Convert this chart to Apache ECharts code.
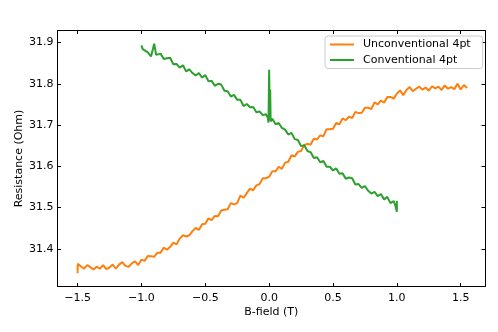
<!DOCTYPE html>
<html>
<head>
<meta charset="utf-8">
<script src="https://cdn.jsdelivr.net/npm/echarts@6/dist/echarts.min.js"></script>
<style>
  html, body { margin: 0; padding: 0; background: #fff; }
  #chart { width: 498px; height: 332px; }
</style>
</head>
<body>
<div id="chart"></div>
<script>
// B-field sweep, unconventional 4pt (orange)
const bUnconv = [
  -1.500, -1.498, -1.475, -1.450, -1.425, -1.400, -1.375, -1.350, -1.325, -1.300,
  -1.275, -1.250, -1.225, -1.200, -1.175, -1.150, -1.125, -1.100, -1.075, -1.050,
  -1.025, -1.000, -0.975, -0.950, -0.925, -0.900, -0.875, -0.850, -0.825, -0.800,
  -0.775, -0.750, -0.725, -0.700, -0.675, -0.650, -0.625, -0.600, -0.575, -0.550,
  -0.525, -0.500, -0.475, -0.450, -0.425, -0.400, -0.375, -0.350, -0.325, -0.300,
  -0.275, -0.250, -0.225, -0.200, -0.175, -0.150, -0.125, -0.100, -0.075, -0.050,
  -0.025, 0.000, 0.025, 0.050, 0.075, 0.100, 0.125, 0.150, 0.175, 0.200,
  0.225, 0.250, 0.275, 0.300, 0.325, 0.350, 0.375, 0.400, 0.425, 0.450,
  0.475, 0.500, 0.525, 0.550, 0.575, 0.600, 0.625, 0.650, 0.675, 0.700,
  0.725, 0.750, 0.775, 0.800, 0.825, 0.850, 0.875, 0.900, 0.925, 0.950,
  0.975, 1.000, 1.025, 1.050, 1.075, 1.100, 1.125, 1.150, 1.175, 1.200,
  1.225, 1.250, 1.275, 1.300, 1.325, 1.350, 1.375, 1.400, 1.425, 1.450,
  1.475, 1.500, 1.525, 1.550
];
const rUnconv = [
  31.341, 31.364, 31.358, 31.352, 31.361, 31.356, 31.350, 31.357, 31.352, 31.361,
  31.351, 31.355, 31.362, 31.352, 31.362, 31.368, 31.359, 31.357, 31.365, 31.370,
  31.361, 31.374, 31.371, 31.383, 31.382, 31.381, 31.391, 31.391, 31.403, 31.398,
  31.405, 31.415, 31.411, 31.425, 31.433, 31.430, 31.433, 31.443, 31.451, 31.446,
  31.460, 31.461, 31.474, 31.470, 31.480, 31.479, 31.493, 31.495, 31.496, 31.511,
  31.508, 31.511, 31.529, 31.524, 31.535, 31.546, 31.542, 31.554, 31.557, 31.571,
  31.571, 31.575, 31.588, 31.588, 31.599, 31.594, 31.609, 31.611, 31.627, 31.624,
  31.635, 31.637, 31.652, 31.654, 31.653, 31.667, 31.665, 31.675, 31.673, 31.690,
  31.690, 31.691, 31.705, 31.702, 31.716, 31.712, 31.720, 31.717, 31.732, 31.729,
  31.730, 31.742, 31.742, 31.739, 31.755, 31.750, 31.759, 31.754, 31.768, 31.768,
  31.764, 31.776, 31.784, 31.772, 31.785, 31.792, 31.782, 31.788, 31.793, 31.786,
  31.791, 31.783, 31.794, 31.789, 31.793, 31.785, 31.796, 31.788, 31.792, 31.787,
  31.800, 31.786, 31.797, 31.790
];

// B-field sweep, conventional 4pt (green)
const bConv = [
  -1.000, -0.990, -0.975, -0.950, -0.925, -0.910, -0.900, -0.885, -0.875,
  -0.850, -0.825, -0.800, -0.775, -0.750, -0.725, -0.700, -0.675, -0.650, -0.625,
  -0.600, -0.575, -0.550, -0.525, -0.500, -0.475, -0.450, -0.425, -0.400, -0.375,
  -0.350, -0.325, -0.300, -0.275, -0.250, -0.225, -0.200, -0.175, -0.150, -0.125,
  -0.100, -0.075, -0.050, -0.025,
  -0.012, -0.005, 0.000, 0.004, 0.008, 0.012,
  0.025, 0.050, 0.075, 0.100, 0.125, 0.150, 0.175, 0.200, 0.225, 0.250,
  0.275, 0.300, 0.325, 0.350, 0.375, 0.400, 0.425, 0.450, 0.475, 0.500,
  0.525, 0.550, 0.575, 0.600, 0.625, 0.650, 0.675, 0.700, 0.725, 0.750,
  0.775, 0.800, 0.825, 0.850, 0.875, 0.900, 0.925, 0.950, 0.975,
  0.990, 1.000, 1.000
];
const rConv = [
  31.893, 31.884, 31.887, 31.876, 31.866, 31.884, 31.897, 31.870, 31.868,
  31.873, 31.860, 31.862, 31.863, 31.847, 31.848, 31.839, 31.845, 31.830, 31.835,
  31.826, 31.820, 31.826, 31.815, 31.821, 31.806, 31.807, 31.795, 31.800, 31.798,
  31.783, 31.782, 31.769, 31.773, 31.761, 31.761, 31.746, 31.751, 31.743, 31.744,
  31.731, 31.733, 31.724, 31.726,
  31.719, 31.706, 31.834, 31.738, 31.786, 31.709,
  31.715, 31.702, 31.705, 31.693, 31.689, 31.677, 31.681, 31.666, 31.664, 31.649,
  31.651, 31.637, 31.634, 31.620, 31.622, 31.610, 31.613, 31.599, 31.599, 31.590,
  31.595, 31.582, 31.583, 31.570, 31.573, 31.571, 31.556, 31.557, 31.548, 31.552,
  31.541, 31.534, 31.538, 31.528, 31.533, 31.520, 31.526, 31.511, 31.516,
  31.503, 31.490, 31.516
];

const xTicks = [-1.5, -1.0, -0.5, 0.0, 0.5, 1.0, 1.5];
const yTicks = [31.4, 31.5, 31.6, 31.7, 31.8, 31.9];

const FONT = 'DejaVu Sans';
const fmtX = v => (v < 0 ? '\u2212' : '') + Math.abs(v).toFixed(1);

const chart = echarts.init(document.getElementById('chart'), null, { renderer: 'canvas' });

const axisLine = { show: true, onZero: false, lineStyle: { color: '#000', width: 1 } };
const tick = (vals) => ({ show: true, inside: true, length: 3.5, customValues: vals, lineStyle: { color: '#000', width: 1 } });

const option = {
  animation: false,
  backgroundColor: '#ffffff',
  grid: { left: 57.5, right: 13, top: 30.5, bottom: 45.5, containLabel: false },
  legend: {
    orient: 'vertical',
    left: 325,
    top: 36,
    padding: [3, 12, 3, 4],
    itemWidth: 24,
    itemHeight: 2,
    itemGap: 4.5,
    borderColor: '#cccccc',
    borderWidth: 1,
    borderRadius: 3,
    backgroundColor: 'rgba(255,255,255,0.8)',
    textStyle: { fontFamily: FONT, fontSize: 11, color: '#000', padding: [0, 0, 0, 4] },
    data: ['Unconventional 4pt', 'Conventional 4pt']
  },
  xAxis: [{
    type: 'value', min: -1.657, max: 1.69, position: 'bottom',
    axisLine: axisLine, splitLine: { show: false },
    axisTick: tick(xTicks),
    axisLabel: { customValues: xTicks, formatter: fmtX, fontFamily: FONT, fontSize: 11, color: '#000', margin: 6 },
    name: 'B-field (T)', nameLocation: 'middle', nameGap: 20, nameMoveOverlap: false,
    nameTextStyle: { fontFamily: FONT, fontSize: 11, color: '#000' }
  }, {
    type: 'value', min: -1.657, max: 1.69, position: 'top',
    axisLine: axisLine, splitLine: { show: false },
    axisTick: tick(xTicks), axisLabel: { show: false }
  }],
  yAxis: [{
    type: 'value', min: 31.309, max: 31.929, position: 'left',
    axisLine: axisLine, splitLine: { show: false },
    axisTick: tick(yTicks),
    axisLabel: { customValues: yTicks, formatter: v => v.toFixed(1), fontFamily: FONT, fontSize: 11, color: '#000', margin: 4 },
    name: 'Resistance (Ohm)', nameLocation: 'middle', nameGap: 33, nameMoveOverlap: false,
    nameTextStyle: { fontFamily: FONT, fontSize: 11, color: '#000' }
  }, {
    type: 'value', min: 31.309, max: 31.929, position: 'right',
    axisLine: axisLine, splitLine: { show: false },
    axisTick: tick(yTicks), axisLabel: { show: false }
  }],
  series: [{
    name: 'Unconventional 4pt',
    type: 'line',
    data: bUnconv.map((b, i) => [b, rUnconv[i]]),
    symbol: 'none',
    lineStyle: { color: '#ff7f0e', width: 2 },
    itemStyle: { color: '#ff7f0e' }
  }, {
    name: 'Conventional 4pt',
    type: 'line',
    data: bConv.map((b, i) => [b, rConv[i]]),
    symbol: 'none',
    lineStyle: { color: '#2ca02c', width: 2 },
    itemStyle: { color: '#2ca02c' }
  }]
};

chart.setOption(option);
</script>
</body>
</html>
